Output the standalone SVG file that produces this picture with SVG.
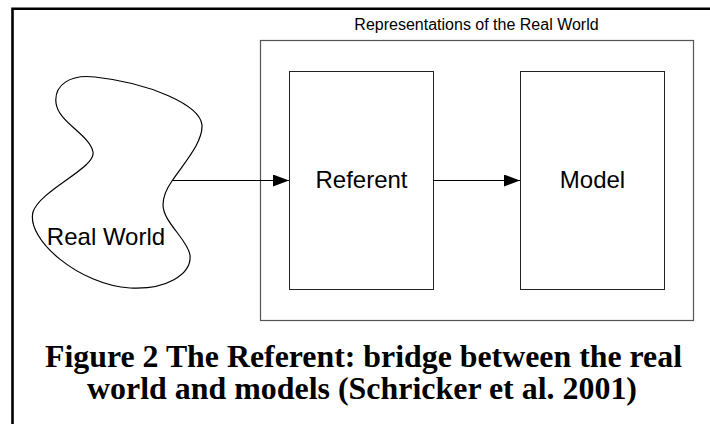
<svg xmlns="http://www.w3.org/2000/svg" width="710" height="424" viewBox="0 0 710 424">
  <style>
    .label { font-family: "Liberation Sans", Arial, sans-serif; font-size: 24px; fill: #000; text-anchor: middle; }
    .title { font-family: "Liberation Sans", Arial, sans-serif; font-size: 16px; fill: #000; text-anchor: middle; }
    .caption { font-family: "Liberation Serif", "Times New Roman", serif; font-weight: bold; font-size: 31px; fill: #000; text-anchor: middle; }
    .box { fill: #fff; stroke: #222; stroke-width: 1; }
    .container { fill: #fff; stroke: #555; stroke-width: 1.2; }
    .blob { fill: #fff; stroke: #000; stroke-width: 1.2; }
    .edge { fill: none; stroke: #000; stroke-width: 1.2; marker-end: url(#arrow); }
  </style>
  <defs>
    <marker id="arrow" markerUnits="userSpaceOnUse" markerWidth="16" markerHeight="12" refX="16" refY="6" orient="auto">
      <path d="M0,0 L16,6 L0,12 Z" fill="#000"/>
    </marker>
  </defs>

  <rect width="710" height="424" fill="#fff"/>

  <!-- page frame (left and top edges only) -->
  <path id="frame" d="M12.5,424 V8.7 H710" fill="none" stroke="#000" stroke-width="2.6"/>

  <!-- container holding the representations -->
  <g id="representations">
    <rect class="container" x="260.5" y="40.5" width="433" height="280"/>
    <text class="title" x="476.5" y="30">Representations of the Real World</text>
  </g>

  <g id="real-world">
    <path class="blob" d="M172,181 C185,162 203,142 202,125 C200,105 150,83 95,77 C70,74 54,85 56,103 C58,122 90,135 93,152 C96,168 40,190 33,212 C26,240 80,285 130,288 C165,290 192,275 190,255 C188,240 163,222 163,205 C163,195 167,188 172,181 Z"/>
    <text class="label" x="106" y="245">Real World</text>
  </g>

  <g id="referent">
    <rect class="box" x="289.5" y="71.5" width="144" height="218"/>
    <text class="label" x="361.5" y="187.5">Referent</text>
  </g>

  <g id="model">
    <rect class="box" x="520.5" y="71.5" width="144" height="218"/>
    <text class="label" x="592.5" y="187.5">Model</text>
  </g>

  <g id="connectors">
    <line class="edge" x1="172" y1="180.5" x2="289" y2="180.5"/>
    <line class="edge" x1="433.5" y1="180.5" x2="520" y2="180.5"/>
  </g>

  <g id="caption">
    <text class="caption" x="363.5" y="366.5" textLength="637" lengthAdjust="spacingAndGlyphs">Figure 2 The Referent: bridge between the real</text>
    <text class="caption" x="362" y="398.5" textLength="550" lengthAdjust="spacingAndGlyphs">world and models (Schricker et al. 2001)</text>
  </g>
</svg>
